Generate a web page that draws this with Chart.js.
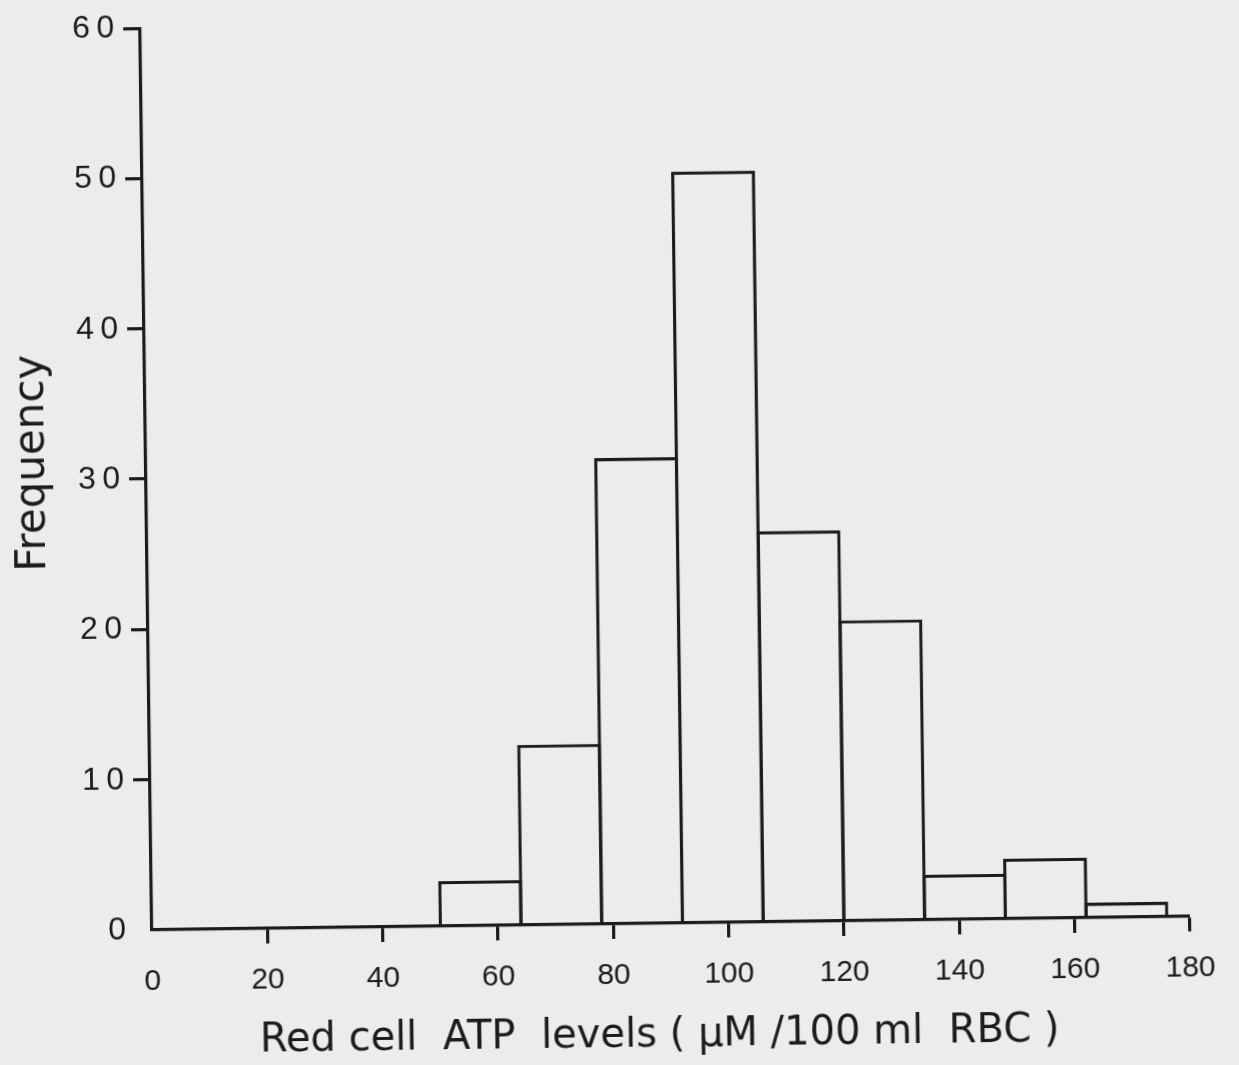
<!DOCTYPE html>
<html>
<head>
<meta charset="utf-8">
<script src="https://cdn.jsdelivr.net/npm/chart.js@4.4.1/dist/chart.umd.min.js"></script>
<style>
  html, body { margin: 0; padding: 0; background: #ececec; overflow: hidden; }
  #wrap { position: absolute; left: 0; top: 0; width: 1239px; height: 1065px;
          transform-origin: 152px 930px; transform: rotate(-0.75deg); }
  canvas { display: block; }
</style>
</head>
<body>
<div id="wrap"><canvas id="c" width="1239" height="1065"></canvas></div>
<script>
// ---- data ----
const binStarts   = [50, 64, 78, 92, 106, 120, 134, 148, 162];
const binWidth    = 14;
const frequencies = [3, 12, 31, 50, 26, 20, 3, 4, 1];
const xTickValues = [0, 20, 40, 60, 80, 100, 120, 140, 160, 180];
const yTickValues = [0, 10, 20, 30, 40, 50, 60];
const xTitle = 'Red cell  ATP  levels ( \u03bcM /100 ml  RBC )  ';
const yTitle = '  \u2009Frequency';

const INK = '#1c1c1c';
const LW = 3.2;
const FONT = '"Liberation Sans", Arial, sans-serif';
const TFONT = '"DejaVu Sans", sans-serif';

const points = binStarts.map((s, i) => ({ x: s + binWidth / 2, y: frequencies[i] }));

new Chart(document.getElementById('c'), {
  type: 'bar',
  data: {
    datasets: [{
      data: points,
      backgroundColor: 'rgba(0,0,0,0)',
      borderColor: INK,
      borderWidth: LW,
      borderSkipped: 'start',
      barPercentage: 1.04,
      categoryPercentage: 1.0
    }]
  },
  options: {
    responsive: false,
    animation: false,
    devicePixelRatio: 1,
    layout: { padding: { top: 24, right: 49, left: 0, bottom: 0 } },
    plugins: { legend: { display: false }, tooltip: { enabled: false } },
    scales: {
      x: {
        type: 'linear',
        offset: false,
        min: 0, max: 180,
        afterBuildTicks: s => { s.ticks = xTickValues.map(v => ({ value: v })); },
        afterFit: s => { s.height = 135; },
        border: { display: true, color: INK, width: LW },
        grid: {
          offset: false,
          drawOnChartArea: false, drawTicks: true, tickLength: 15,
          color: INK,
          lineWidth: c => (c.tick && c.tick.value === 0 ? 0 : LW)
        },
        ticks: {
          color: INK, padding: 19, maxRotation: 0, autoSkip: false,
          font: { family: FONT, size: 30 },
          callback: v => String(v)
        },
        title: {
          display: true, text: xTitle, color: INK,
          font: { family: TFONT, size: 40, lineHeight: 1 },
          padding: { top: 0, bottom: 2 }
        }
      },
      y: {
        type: 'linear',
        min: 0, max: 60,
        afterBuildTicks: s => { s.ticks = yTickValues.map(v => ({ value: v })); },
        afterFit: s => { s.width = 152; },
        border: { display: true, color: INK, width: LW },
        grid: {
          drawOnChartArea: false, drawTicks: true, tickLength: 17,
          color: INK,
          lineWidth: c => (c.tick && c.tick.value === 0 ? 0 : LW)
        },
        ticks: {
          color: INK, padding: 9, autoSkip: false,
          font: { family: FONT, size: 32 },
          callback: v => String(v).split('').join('\u2009')
        },
        title: {
          display: true, text: yTitle, color: INK,
          font: { family: TFONT, size: 42, lineHeight: 1 },
          padding: { top: 18, bottom: 0 }
        }
      }
    }
  }
});
</script>
</body>
</html>
